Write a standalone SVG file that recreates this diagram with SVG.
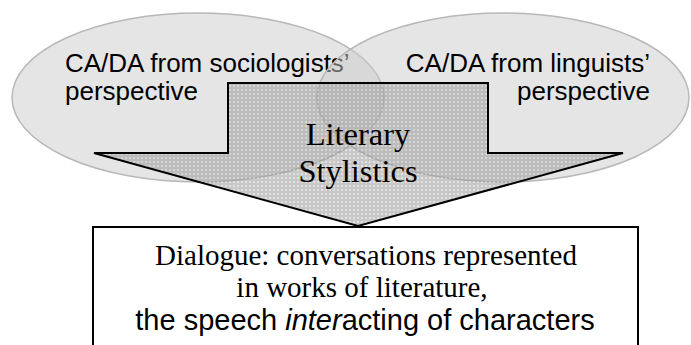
<svg xmlns="http://www.w3.org/2000/svg" width="691" height="345" viewBox="0 0 691 345">
<style>
.ell{fill:#cccccc;fill-opacity:0.5;stroke:#b8b8b8;stroke-width:1.5}
.sans{font-family:"Liberation Sans",Arial,sans-serif;fill:#000}
.serif{font-family:"Liberation Serif","Times New Roman",serif;fill:#000}
</style>
<defs>
<pattern id="dots" width="4" height="4" patternUnits="userSpaceOnUse">
<rect width="4" height="4" fill="#9a9a9a"/>
<rect x="1" y="1" width="2" height="2" fill="#c8c8c8"/>
</pattern>
</defs>
<rect width="691" height="345" fill="#ffffff"/>
<g id="sociologists">
<ellipse class="ell" cx="198" cy="97.5" rx="186" ry="84.5"/>
<text class="sans" x="65" y="72" font-size="26">CA/DA from sociologists’</text>
<text class="sans" x="65" y="100" font-size="26">perspective</text>
</g>
<g id="linguists">
<ellipse class="ell" cx="503" cy="97.5" rx="186" ry="84.5"/>
<text class="sans" x="650" y="72" font-size="26" text-anchor="end">CA/DA from linguists’</text>
<text class="sans" x="650" y="100" font-size="26" text-anchor="end">perspective</text>
</g>
<g id="connectors">
<g id="stylistics">
<polygon points="228,83 488,83 488,153 623,153 358,226 94,153 228,153" fill="url(#dots)" fill-opacity="0.55" stroke="#000" stroke-width="2" stroke-linejoin="miter"/>
<text class="serif" x="358" y="145" font-size="32.5" text-anchor="middle">Literary</text>
<text class="serif" x="358" y="182" font-size="32.5" text-anchor="middle">Stylistics</text>
</g>
</g>
<g id="dialogue">
<rect x="93" y="227" width="545" height="130" fill="#ffffff" stroke="#000" stroke-width="2"/>
<text class="serif" x="366" y="265" font-size="29" text-anchor="middle">Dialogue: conversations represented</text>
<text class="serif" x="362" y="297" font-size="29" text-anchor="middle">in works of literature,</text>
<text class="sans" x="365" y="330" font-size="29" text-anchor="middle">the speech <tspan font-style="italic">inter</tspan>acting of characters</text>
</g>
</svg>
